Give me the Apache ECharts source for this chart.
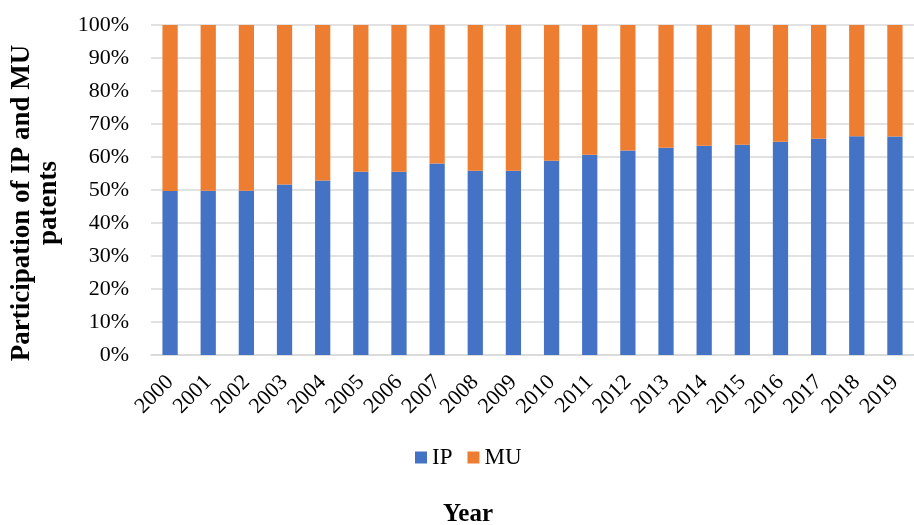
<!DOCTYPE html>
<html>
<head>
<meta charset="utf-8">
<script src="https://cdn.jsdelivr.net/npm/echarts@6/dist/echarts.min.js"></script>
<style>
  html, body { margin: 0; padding: 0; background: #fff; }
  #chart { width: 914px; height: 525px; }
</style>
</head>
<body>
<div id="chart"></div>
<script>
// Share of IP and MU patents per year (percent)
const years = ['2000','2001','2002','2003','2004','2005','2006','2007','2008','2009',
               '2010','2011','2012','2013','2014','2015','2016','2017','2018','2019'];
const ipShare = [49.7, 49.8, 49.8, 51.7, 52.9, 55.5, 55.5, 58.0, 55.8, 55.8,
                 58.9, 60.7, 62.0, 62.8, 63.4, 63.7, 64.6, 65.5, 66.3, 66.2];
const muShare = ipShare.map(v => +(100 - v).toFixed(1));
const yTicks = [0, 10, 20, 30, 40, 50, 60, 70, 80, 90, 100];

const serif = '"Liberation Serif", "Times New Roman", serif';
const chart = echarts.init(document.getElementById('chart'));

chart.setOption({
  animation: false,
  textStyle: { fontFamily: serif, color: '#000' },
  grid: { left: 151, top: 25, width: 778, height: 330, containLabel: false },
  legend: {
    data: ['IP', 'MU'],
    left: 410, top: 441,
    icon: 'rect', itemWidth: 12, itemHeight: 12, itemGap: 15,
    textStyle: { fontFamily: serif, fontSize: 23, color: '#000' }
  },
  graphic: [
    {
      type: 'text', x: 36, y: 203, rotation: Math.PI / 2,
      style: {
        text: 'Participation of IP and MU\npatents',
        fontFamily: serif, fontSize: 27, fontWeight: 'bold', fill: '#000',
        lineHeight: 27, align: 'center', verticalAlign: 'middle'
      }
    },
    {
      type: 'text', x: 468, y: 515,
      style: {
        text: 'Year', fontFamily: serif, fontSize: 25, fontWeight: 'bold', fill: '#000',
        align: 'center', verticalAlign: 'middle'
      }
    }
  ],
  xAxis: {
    type: 'category',
    data: years,
    axisLine: { lineStyle: { color: '#d9d9d9', width: 1.5 } },
    axisTick: { show: false },
    axisLabel: { rotate: 45, fontSize: 22, color: '#000', fontFamily: serif, margin: 24, interval: 0 }
  },
  yAxis: {
    type: 'value',
    min: yTicks[0], max: yTicks[yTicks.length - 1], interval: 10,
    axisLine: { show: false },
    axisTick: { show: false },
    splitLine: { lineStyle: { color: '#d9d9d9', width: 1.5 } },
    axisLabel: { formatter: '{value}%', fontSize: 22, color: '#000', fontFamily: serif, margin: 22 }
  },
  series: [
    { name: 'IP', type: 'bar', stack: 'share', data: ipShare, barWidth: '40%',
      itemStyle: { color: '#4472C4' } },
    { name: 'MU', type: 'bar', stack: 'share', data: muShare, barWidth: '40%',
      itemStyle: { color: '#ED7D31' } }
  ]
});
</script>
</body>
</html>
